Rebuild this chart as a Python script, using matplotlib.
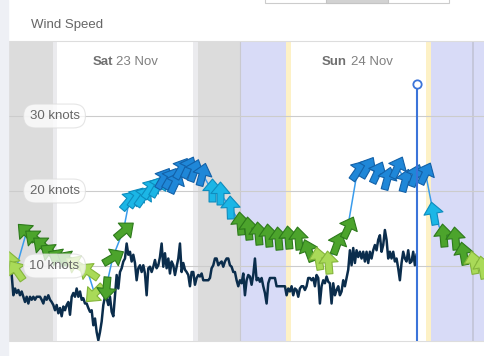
import matplotlib
matplotlib.use("Agg")
import matplotlib.pyplot as plt
import numpy as np
from matplotlib.markers import MarkerStyle
from matplotlib.path import Path
from matplotlib.patches import Rectangle
import matplotlib.transforms as mtransforms

plt.rcParams['font.family'] = ['Liberation Sans', 'DejaVu Sans']

# hours since Sat 00:00
obs_start = 0.48
obs_step = 0.1716
obs_knots = [
    8.8, 6.1, 7.0, 6.4, 6.8, 6.1, 6.6, 5.9, 5.2, 5.9, 5.0, 5.9, 5.5, 5.9, 5.5, 5.9,
    5.9, 5.9, 5.5, 5.0, 5.9, 5.5, 6.1, 5.5, 5.2, 4.8, 4.1, 4.8, 3.7, 4.4, 3.3, 4.6,
    4.1, 4.8, 5.2, 3.5, 5.9, 6.4, 5.9, 7.0, 5.9, 6.6, 5.5, 5.7, 5.0, 5.0, 4.4, 3.9,
    4.1, 2.1, 3.0, 1.2, 0.1, 1.2, 2.6, 4.8, 5.9, 5.7, 4.8, 5.9, 3.9, 3.3, 6.1, 8.8,
    7.0, 9.2, 9.7, 10.6, 11.0, 13.0, 11.5, 11.9, 10.6, 11.5, 10.4, 8.1, 9.7, 10.1, 9.2, 10.1,
    9.0, 6.1, 9.7, 9.9, 9.2, 9.9, 10.8, 9.7, 10.1, 11.2, 13.0, 9.9, 11.7, 9.7, 11.0, 9.0,
    10.6, 10.1, 8.8, 9.9, 11.0, 13.0, 9.2, 10.4, 9.5, 9.2, 8.8, 7.3, 9.2, 9.2, 7.5, 8.4,
    8.8, 8.6, 9.0, 8.1, 8.1, 8.1, 8.1, 8.4, 9.7, 10.1, 11.0, 11.0, 10.1, 10.4, 10.6, 9.9,
    10.6, 11.0, 11.0, 10.1, 9.9, 9.2, 9.2, 8.1, 7.3, 8.1, 7.7, 9.0, 6.1, 8.1, 8.8, 8.6,
    7.5, 8.8, 11.0, 8.1, 8.4, 7.9, 8.4, 7.3, 6.4, 5.0, 7.7, 8.4, 8.4, 8.4, 8.4, 7.3,
    7.3, 7.3, 7.3, 7.3, 7.3, 6.1, 7.0, 6.6, 7.3, 6.1, 7.0, 6.8, 5.9, 7.0, 7.3, 7.3,
    6.8, 7.3, 8.4, 8.4, 8.1, 8.4, 7.3, 8.8, 8.4, 5.0, 7.3, 8.1, 7.7, 8.6, 7.9, 7.7,
    5.0, 7.7, 6.1, 6.8, 7.3, 6.1, 6.6, 8.1, 7.3, 8.4, 9.5, 12.1, 10.1, 12.4, 10.4, 12.1,
    11.2, 11.9, 11.0, 11.9, 10.6, 11.9, 10.4, 11.9, 11.0, 12.1, 12.8, 12.1, 13.5, 14.1, 11.9, 12.8,
    14.8, 13.5, 11.0, 11.9, 11.0, 11.9, 10.6, 11.0, 9.7, 8.1, 10.4, 11.9, 11.0, 10.6, 12.1, 10.4,
    10.6, 11.9, 10.1, 11.5,
]

fc_hours = [0.3, 0.9, 2.0, 2.8, 3.6, 4.4, 5.2, 6.2, 7.1, 8.3, 9.0, 10.2, 10.9, 12.0,
            12.6, 13.3, 14.0, 14.7, 15.4, 16.1, 16.8, 17.3, 17.9, 18.6, 19.3, 20.1,
            21.1, 21.9, 23.0, 24.0, 24.8, 25.9, 26.9, 27.9, 28.9, 30.0, 31.0, 32.0,
            33.1, 34.0, 35.1, 36.1, 37.1, 38.1, 39.1, 40.2, 41.0, 42.0, 43.1, 43.9,
            44.9, 46.1, 47.0, 48.0, 48.9]
fc_knots = [10.5, 9.5, 14.5, 13.7, 12.8, 11.9, 11.2, 10.9, 10.3, 9.3, 6.4, 7.1, 11.2, 14.8,
            18.8, 19.2, 19.3, 20.4, 20.7, 21.7, 21.7, 21.2, 23.1, 23.2, 22.8, 22.3,
            20.1, 19.7, 17.9, 15.7, 15.1, 14.4, 14.1, 13.7, 13.9, 13.7, 12.1, 11.1,
            10.5, 13.1, 15.2, 22.8, 23.2, 22.5, 21.7, 23.2, 21.5, 22.1, 22.4, 17.1,
            14.1, 13.7, 11.7, 10.5, 9.9]
# direction the arrow points, degrees (0 = right, 90 = up)
fc_dir = [100, 125, 135, 140, 140, 145, 150, 150, 150, 145, 225, 265, 30, 40,
          50, 55, 55, 55, 60, 60, 60, 65, 60, 65, 70, 75,
          90, 90, 92, 95, 95, 95, 95, 95, 95, 95, 110, 100,
          95, 70, 65, 55, 60, 65, 75, 65, 75, 70, 65, 100,
          95, 95, 100, 100, 100]
fc_band = ['lg', 'lg', 'g', 'g', 'g', 'g', 'g', 'g', 'lg', 'lg', 'lg', 'g', 'g', 'g',
           'c', 'c', 'c', 'c', 'c', 'b', 'b', 'b', 'b', 'b', 'b', 'b',
           'c', 'c', 'c', 'g', 'g', 'g', 'g', 'g', 'g', 'g', 'g', 'lg',
           'lg', 'g', 'g', 'b', 'b', 'b', 'b', 'b', 'b', 'b', 'b', 'c',
           'g', 'g', 'g', 'lg', 'lg']
band_colors = {'lg': ('#a9da58', '#84b53a'), 'g': ('#4ca42c', '#2d7a1b'),
               'c': ('#1bb6e6', '#0e8cbe'), 'b': ('#1f87d8', '#1361a8')}

now_hour = 42.22
knot_ticks = [10, 20, 30]

# night / twilight backgrounds (start, end, colour)
bands = [(0, 4.74, '#dcdcdc'), (4.74, 5.15, '#ebebee'), (19.16, 19.67, '#ebebee'),
         (19.67, 24.0, '#dcdcdc'), (24.0, 28.75, '#d8dbf7'), (28.75, 29.2, '#fdf1c6'),
         (43.15, 43.66, '#fdf1c6'), (43.66, 50, '#d8dbf7')]

fig = plt.figure(figsize=(4.85, 3.56), dpi=100)
fig.patches.append(Rectangle((0, 0), 8 / 485, 1, transform=fig.transFigure,
                             color='#eef0f5', zorder=0))
# bit of the segmented button at the top
fig.patches.append(Rectangle((265 / 485, 1 - 3 / 356), 184 / 485, 0.05, transform=fig.transFigure,
                             fc='white', ec='#cccccc', lw=0.8))
fig.patches.append(Rectangle((326 / 485, 1 - 3 / 356), 62 / 485, 0.05, transform=fig.transFigure,
                             fc='#d2d2d2', ec='#c4c4c4', lw=0.8))
fig.text(31 / 485, 1 - 25 / 356, 'Wind Speed', va='center', ha='left', fontsize=9.5, color='#666666')

ax = fig.add_axes([8 / 485, 15 / 356, 477 / 485, 300 / 356])
ax.set_xlim(0.1, 49.23)
ax.set_ylim(0, 40)
ax.set_xticks([])
ax.set_yticks([])
for s in ['left', 'right']:
    ax.spines[s].set_visible(False)
ax.spines['top'].set_color('#dddddd')
ax.spines['bottom'].set_color('#dddddd')

for a, b, c in bands:
    ax.axvspan(a, b, color=c, lw=0, zorder=0)
ax.axvline(24.0, color='#c9c9cf', lw=0.8, zorder=0.5)
ax.axvline(48.0, color='#c2c4d6', lw=1.2, zorder=0.5)

for k in knot_ticks:
    ax.axhline(k, color='#cccccc', lw=0.8, zorder=1)

obs_hours = obs_start + obs_step * np.arange(len(obs_knots))
ax.plot(obs_hours, obs_knots, color='#0b2d4c', lw=1.8, zorder=3)

ax.plot(fc_hours, fc_knots, color='#3a9cec', lw=1.1, zorder=4)

arrow = Path([(0, 0.5), (0.42, 0.0), (0.15, 0.0), (0.15, -0.5), (-0.15, -0.5),
              (-0.15, 0.0), (-0.42, 0.0), (0, 0.5)],
             [Path.MOVETO] + [Path.LINETO] * 6 + [Path.CLOSEPOLY])
for h, k, d, band in zip(fc_hours, fc_knots, fc_dir, fc_band):
    face, edge = band_colors[band]
    ms = MarkerStyle(arrow).rotated(deg=d - 90)
    ax.plot([h], [k], marker=ms, ms=16.5, mfc=face, mec=edge, mew=0.8, ls='none', zorder=5)

trans = mtransforms.blended_transform_factory(ax.transAxes, ax.transData)
for k in knot_ticks:
    ax.text(0.0975, k, f'{k} knots', transform=trans, ha='center', va='center', fontsize=9.5,
            color='#666666', zorder=6,
            bbox=dict(boxstyle='round,pad=0.45,rounding_size=0.9', fc='white', ec='#dddddd',
                      lw=0.8, alpha=0.75))

ax.text(10.95, 37.2, 'Sat', ha='right', va='center', fontsize=9.5, color='#707070',
        fontweight='bold', zorder=6)
ax.text(11.2, 37.2, '23 Nov', ha='left', va='center', fontsize=9.5, color='#808080', zorder=6)
ax.text(35.02, 37.2, 'Sun', ha='right', va='center', fontsize=9.5, color='#707070',
        fontweight='bold', zorder=6)
ax.text(35.4, 37.2, '24 Nov', ha='left', va='center', fontsize=9.5, color='#808080', zorder=6)

ax.plot([now_hour, now_hour], [0, 34.3], color='#3b74d9', lw=1.5, zorder=7)
ax.plot([now_hour], [34.3], marker='o', ms=6, mfc='white', mec='#3b74d9', mew=1.3, zorder=8,
        clip_on=False)

fig.savefig('out.png', dpi=100)
